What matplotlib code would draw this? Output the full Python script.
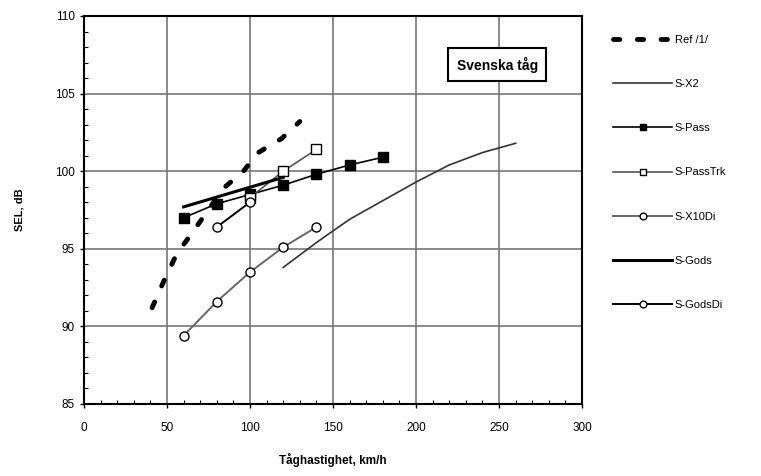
import matplotlib
matplotlib.use("Agg")
import matplotlib.pyplot as plt
from matplotlib.ticker import MultipleLocator

plt.rcParams['font.family'] = ['Liberation Sans', 'DejaVu Sans']

# Data
ref_x = [41, 48, 56, 65, 84, 96, 105, 119, 130]
ref_y = [91.2, 92.9, 94.7, 96.0, 98.9, 100.0, 101.2, 102.1, 103.2]

sx2_x = [120, 140, 160, 180, 200, 220, 240, 260]
sx2_y = [93.8, 95.4, 96.9, 98.1, 99.3, 100.4, 101.2, 101.8]

spass_x = [60, 80, 100, 120, 140, 160, 180]
spass_y = [97.0, 97.9, 98.5, 99.1, 99.8, 100.4, 100.9]

spasstrk_x = [100, 120, 140]
spasstrk_y = [98.3, 100.0, 101.4]

sx10_x = [60, 80, 100, 120, 140]
sx10_y = [89.4, 91.6, 93.5, 95.1, 96.4]

sgods_x = [60, 120]
sgods_y = [97.7, 99.6]

sgodsdi_x = [80, 100]
sgodsdi_y = [96.4, 98.0]

labels = ["Ref /1/", "S-X2", "S-Pass", "S-PassTrk", "S-X10Di", "S-Gods", "S-GodsDi"]

fig = plt.figure(figsize=(7.61, 4.76), dpi=100)
ax = fig.add_axes([0.1104, 0.1513, 0.6544, 0.8151])

h = []
h += ax.plot(ref_x, ref_y, color='black', lw=3.5, dashes=(1.3, 3.6), dash_capstyle='round')
h += ax.plot(sx2_x, sx2_y, color='#333333', lw=1.2)
h += ax.plot(spass_x, spass_y, color='black', lw=1.2, marker='s', ms=6.5,
             mfc='black', mec='black')
h += ax.plot(spasstrk_x, spasstrk_y, color='#555555', lw=1.2, marker='s', ms=6.5,
             mfc='white', mec='black')
h += ax.plot(sx10_x, sx10_y, color='#666666', lw=1.4, marker='o', ms=6.5,
             mfc='white', mec='black')
h += ax.plot(sgods_x, sgods_y, color='black', lw=2.2)
h += ax.plot(sgodsdi_x, sgodsdi_y, color='black', lw=1.4, marker='o', ms=6.5,
             mfc='white', mec='black')

ax.set_xlim(0, 300)
ax.set_ylim(85, 110)
ax.xaxis.set_major_locator(MultipleLocator(50))
ax.xaxis.set_minor_locator(MultipleLocator(10))
ax.yaxis.set_major_locator(MultipleLocator(5))
ax.yaxis.set_minor_locator(MultipleLocator(1))
ax.grid(True, which='major', color='#777777', lw=1.2)
ax.set_axisbelow(True)
ax.tick_params(which='major', direction='out', length=3, width=1, labelsize=8.5, colors='black')
ax.tick_params(which='minor', direction='in', length=3, width=0.8)
ax.tick_params(axis='x', which='major', pad=10)
for s in ax.spines.values():
    s.set_linewidth(1.5)

ax.set_xlabel("Tåghastighet, km/h", fontsize=8.5, fontweight='bold', labelpad=14)
ax.set_ylabel("SEL, dB", fontsize=8, fontweight='bold', labelpad=22)

ax.text(0.83, 0.875, "Svenska tåg", transform=ax.transAxes, fontsize=10,
        fontweight='bold', ha='center', va='center',
        bbox=dict(boxstyle='square,pad=0.6', fc='white', ec='black', lw=1.5))

fig.legend(h, labels, loc='upper left', bbox_to_anchor=(0.793, 0.948),
           frameon=False, fontsize=8, labelspacing=3.08, handlelength=5.3,
           handletextpad=0.2, markerscale=0.75)

fig.savefig("out.png", dpi=100)
